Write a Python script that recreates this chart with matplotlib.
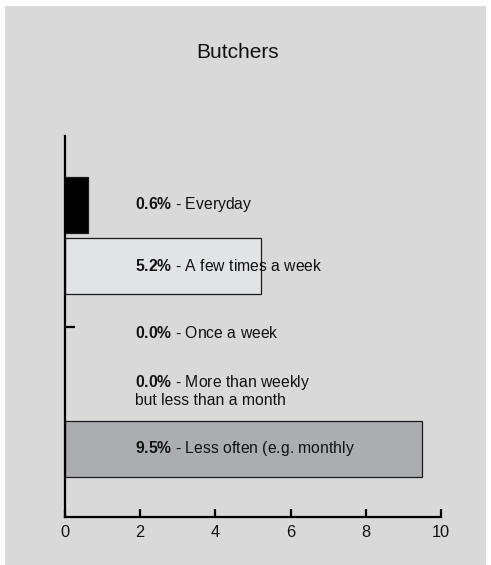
import matplotlib
matplotlib.use('Agg')
from matplotlib import pyplot as plt
import matplotlib.patches

plt.rcParams['font.family'] = ['Liberation Sans', 'DejaVu Sans']
plt.rcParams['mathtext.fontset'] = 'custom'
plt.rcParams['mathtext.rm'] = 'Liberation Sans'
plt.rcParams['mathtext.bf'] = 'Liberation Sans:bold'

# Data
CATEGORIES = ['Everyday', 'A few times a week', 'Once a week',
              'More than weekly\nbut less than a month', 'Less often (e.g. monthly']
VALUES = [0.6, 5.2, 0.0, 0.0, 9.5]
BAR_COLORS = ['#000000', '#e2e3e5', '#d9d9d9', '#d9d9d9', '#acadb0']
LABEL_NUDGE = [0.0, 0.0, 0.1, 0.04, 0.0]
TITLE = 'Butchers'
X_TICKS = [0, 2, 4, 6, 8, 10]

BG = '#d9d9d9'
LABEL_X = 1.86


def main():
    fig = plt.figure(figsize=(4.91, 5.65), dpi=100, facecolor='white')
    # grey panel with thin white margin at top / left / right
    panel = matplotlib.patches.Rectangle((5 / 491, 0), 481 / 491, 1 - 6 / 565,
                                         transform=fig.transFigure, facecolor=BG,
                                         edgecolor='none', zorder=-10)
    fig.patches.append(panel)

    ax = fig.add_axes([65 / 491, 1 - 517 / 565, 376 / 491, 381 / 565])
    ax.set_facecolor('none')

    slots = list(range(len(VALUES)))
    for i, (val, col) in enumerate(zip(VALUES, BAR_COLORS)):
        if val > 0:
            ax.barh(i, val, height=0.92, color=col, edgecolor='#1a1a1a',
                    linewidth=0.9, zorder=2)
        label = r'$\mathbf{%.1f\%%}$ - %s' % (val, CATEGORIES[i])
        ax.text(LABEL_X, i + LABEL_NUDGE[i], label, ha='left', va='center',
                fontsize=11.3, color='#111111', linespacing=1.15, zorder=3)

    ax.set_xlim(0, 10)
    ax.set_ylim(5.115, -1.131)

    for side in ['top', 'right']:
        ax.spines[side].set_visible(False)
    for side in ['left', 'bottom']:
        ax.spines[side].set_linewidth(1.6)
        ax.spines[side].set_color('black')

    ax.set_xticks(X_TICKS)
    ax.set_xticklabels([str(t) for t in X_TICKS])
    ax.tick_params(axis='x', direction='in', length=6, width=1.6, pad=6,
                   labelsize=11.8, labelcolor='#111111')
    # single zero-width mark for "Once a week"
    ax.set_yticks([slots[2]])
    ax.set_yticklabels([''])
    ax.tick_params(axis='y', direction='in', length=7, width=1.6)

    fig.text(238 / 491, 1 - 53 / 565, TITLE, ha='center', va='center',
             fontsize=15, color='#111111')

    fig.savefig('out.png', dpi=100, facecolor=fig.get_facecolor())


if __name__ == '__main__':
    main()
